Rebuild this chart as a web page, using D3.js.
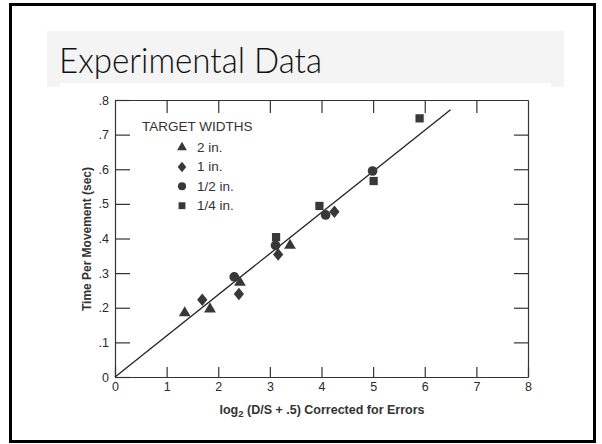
<!DOCTYPE html>
<html>
<head>
<meta charset="utf-8">
<script src="https://cdn.jsdelivr.net/npm/d3@7"></script>
<style>
  body { margin: 0; background: #fff; }
  svg { display: block; }
  .axis path, .axis line { stroke: #333; stroke-width: 1.2; }
  .axis text { font-family: "Liberation Sans", Arial, sans-serif; font-size: 12.5px; fill: #2a2a2a; }
</style>
</head>
<body>
<div class="chart"></div>
<script>
// values
const xTicks = [0, 1, 2, 3, 4, 5, 6, 7, 8];
const yTicks = [0, 0.1, 0.2, 0.3, 0.4, 0.5, 0.6, 0.7, 0.8];
const yTickLabels = ["0", ".1", ".2", ".3", ".4", ".5", ".6", ".7", ".8"];

const seriesNames = ["2 in.", "1 in.", "1/2 in.", "1/4 in."];
const width2in = [[1.35, 0.185], [1.84, 0.196], [2.42, 0.273], [3.39, 0.380]];
const width1in = [[1.69, 0.223], [2.40, 0.240], [3.16, 0.354], [4.25, 0.477]];
const widthHalf = [[2.31, 0.289], [3.11, 0.380], [4.08, 0.468], [4.99, 0.595]];
const widthQuarter = [[3.12, 0.404], [3.96, 0.494], [5.01, 0.566], [5.90, 0.747]];
const fitLine = [[0, 0], [6.5, 0.772]];

const W = 602, H = 444;
const margin = ({top: 100, right: 74, bottom: 67, left: 115});

const svg = d3.select(".chart")
    .append("svg")
    .attr("width", W)
    .attr("height", H);

// slide frame + title band
svg.append("rect")
    .attr("x", 10.5).attr("y", 4.5)
    .attr("width", 584).attr("height", 437)
    .attr("fill", "none")
    .attr("stroke", "#000")
    .attr("stroke-width", 3);

svg.append("rect")
    .attr("x", 47).attr("y", 31)
    .attr("width", 517).attr("height", 56)
    .attr("fill", "#f3f4f3");

svg.append("rect")
    .attr("x", 60).attr("y", 83)
    .attr("width", 491).attr("height", 340)
    .attr("fill", "#fff");

svg.append("text")
    .attr("x", 59)
    .attr("y", 73)
    .attr("font-family", "Lato, 'Open Sans', sans-serif")
    .attr("font-weight", 300)
    .attr("font-size", 35)
    .attr("fill", "#111")
    .attr("textLength", 263)
    .attr("lengthAdjust", "spacingAndGlyphs")
    .text("Experimental Data");

const xScale = d3.scaleLinear()
    .domain([0, 8])
    .range([margin.left, W - margin.right]);

const yScale = d3.scaleLinear()
    .domain([0, 0.8])
    .range([H - margin.bottom, margin.top]);

// axes, ticks pointing inward on all four sides
svg.append("g")
    .attr("class", "axis x-axis")
    .attr("transform", `translate(0, ${yScale(0)})`)
    .call(d3.axisBottom(xScale).tickValues(xTicks).tickSizeInner(-10).tickSizeOuter(0).tickPadding(5).tickFormat(d3.format("d")));

svg.append("g")
    .attr("class", "axis y-axis")
    .attr("transform", `translate(${xScale(0)}, 0)`)
    .call(d3.axisLeft(yScale).tickValues(yTicks).tickSizeInner(-15).tickSizeOuter(0).tickPadding(6)
        .tickFormat((d, i) => yTickLabels[i]));

svg.append("g")
    .attr("class", "axis")
    .attr("transform", `translate(0, ${yScale(0.8)})`)
    .call(d3.axisTop(xScale).tickValues(xTicks.slice(1, -1)).tickSizeInner(-13).tickSizeOuter(0).tickFormat(""));

svg.append("g")
    .attr("class", "axis")
    .attr("transform", `translate(${xScale(8)}, 0)`)
    .call(d3.axisRight(yScale).tickValues(yTicks.slice(1, -1)).tickSizeInner(-14).tickSizeOuter(0).tickFormat(""));

// regression line
const line = d3.line()
    .x(d => xScale(d[0]))
    .y(d => yScale(d[1]));

svg.append("path")
    .datum(fitLine)
    .attr("d", line)
    .attr("fill", "none")
    .attr("stroke", "#222")
    .attr("stroke-width", 1.3);

// wider diamond than d3's built-in one
const wideDiamond = {
    draw(context, size) {
        const h = Math.sqrt(size) * 0.66, w = h * 0.82;
        context.moveTo(0, -h);
        context.lineTo(w, 0);
        context.lineTo(0, h);
        context.lineTo(-w, 0);
        context.closePath();
    }
};

const markerTypes = [d3.symbolTriangle, wideDiamond, d3.symbolCircle, d3.symbolSquare];
const markerSizes = [60, 90, 74, 68];
const allSeries = [width2in, width1in, widthHalf, widthQuarter];
const markColor = "#383838";

allSeries.forEach((pts, i) => {
    svg.append("g")
        .selectAll("path")
        .data(pts)
        .enter()
        .append("path")
        .attr("transform", d => `translate(${xScale(d[0])}, ${yScale(d[1])})`)
        .attr("d", d3.symbol().type(markerTypes[i]).size(markerSizes[i]))
        .attr("fill", markColor);
});

// legend
const legend = svg.append("g")
    .attr("font-family", "'Liberation Sans', Arial, sans-serif")
    .attr("fill", "#333");

legend.append("text")
    .attr("x", 142)
    .attr("y", 131)
    .attr("font-size", 13.5)
    .text("TARGET WIDTHS");

seriesNames.forEach((name, i) => {
    const cy = 147.5 + i * 19.4;
    legend.append("path")
        .attr("transform", `translate(182, ${cy})`)
        .attr("d", d3.symbol().type(markerTypes[i]).size(markerSizes[i] * 0.7))
        .attr("fill", markColor);
    legend.append("text")
        .attr("x", 197)
        .attr("y", cy + 4.5)
        .attr("font-size", 13.5)
        .text(name);
});

// axis labels
svg.append("text")
    .attr("transform", "translate(91, 239) rotate(-90)")
    .attr("text-anchor", "middle")
    .attr("font-family", "'Liberation Sans', Arial, sans-serif")
    .attr("font-size", 12)
    .attr("font-weight", "bold")
    .attr("fill", "#333")
    .attr("textLength", 144)
    .attr("lengthAdjust", "spacingAndGlyphs")
    .text("Time Per Movement (sec)");

const xLabel = svg.append("text")
    .attr("x", 322)
    .attr("y", 414)
    .attr("text-anchor", "middle")
    .attr("font-family", "'Liberation Sans', Arial, sans-serif")
    .attr("font-size", 12.5)
    .attr("font-weight", "bold")
    .attr("fill", "#333");
xLabel.append("tspan").text("log");
xLabel.append("tspan").attr("font-size", 9.5).attr("dy", 3).text("2");
xLabel.append("tspan").attr("dy", -3).text(" (D/S + .5) Corrected for Errors");
</script>
</body>
</html>
